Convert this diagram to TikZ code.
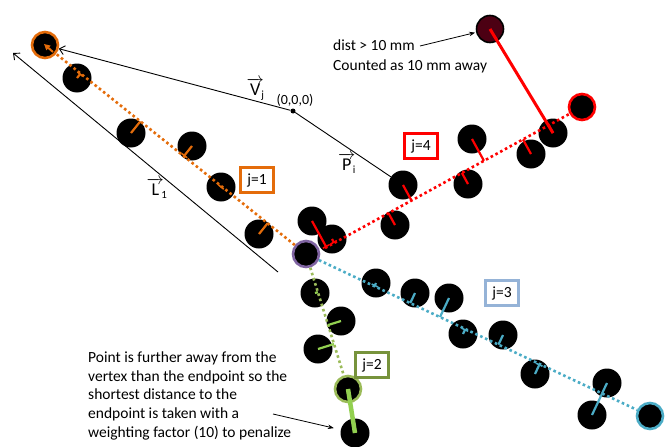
\documentclass[tikz,border=0pt]{standalone}
\usepackage{fontspec}
\setmainfont{Carlito}
\usetikzlibrary{calc,arrows.meta}
\definecolor{orC}{HTML}{E46C0A}
\definecolor{redC}{HTML}{FF0000}
\definecolor{blueC}{HTML}{4BACC6}
\definecolor{purpC}{HTML}{8064A2}
\definecolor{grnD}{HTML}{9BBB59}
\definecolor{grnL}{HTML}{92D050}
\definecolor{grnBox}{HTML}{77933C}
\definecolor{blueBox}{HTML}{95B3D7}
\definecolor{maroon}{HTML}{4C0013}
\newcommand{\veclab}[2]{\(\overrightarrow{\mbox{#1}}\)\kern-2.5pt\raisebox{-3.5pt}{\fontsize{11}{11}\selectfont #2}}
\begin{document}
\begin{tikzpicture}[x=1pt,y=-1pt,
  blk/.style={circle,fill=black,minimum size=29pt,inner sep=0pt},
  endp/.style={circle,fill=black,draw=#1,line width=2.6pt,minimum size=26pt,inner sep=0pt},
  dotl/.style={draw=#1,line width=2.6pt,dash pattern=on 2.6pt off 2.8pt},
  proj/.style={draw=#1,line width=2.2pt},
  projbar/.style={draw=#1,line width=2.2pt,-{Bar[width=7pt,line width=1.6pt]}},
  jbox/.style={draw=#1,line width=2.6pt,fill=white,minimum width=33pt,minimum height=25pt,inner sep=0pt,font=\fontsize{15.5}{18.6}\selectfont},
  lbl/.style={font=\fontsize{15.5}{18.6}\selectfont,inner sep=0pt},
  veclbl/.style={font=\fontsize{18}{20}\selectfont,inner sep=0pt,anchor=base west},
  openarrow/.style={draw=black,line width=0.9pt,-{Straight Barb[length=5pt,width=9pt]}},
  notearrow/.style={draw=black,line width=0.8pt,-{Stealth[length=6pt,width=4.5pt]}}
]
\useasboundingbox (0,0) rectangle (667,447);

% black data points
\node[blk] (o1) at (77,78) {};
\node[blk] (o2) at (131,133) {};
\node[blk] (o3) at (192,146) {};
\node[blk] (o4) at (221,187) {};
\node[blk] (o5) at (259,234) {};
\node[blk] (r1) at (312,221) {};
\node[blk] (r2) at (332,239) {};
\node[blk] (r3) at (403,185) {};
\node[blk] (r4) at (395,225) {};
\node[blk] (r5) at (472,139) {};
\node[blk] (r6) at (468,184) {};
\node[blk] (r7) at (531,154) {};
\node[blk] (r8) at (553,133) {};
\node[blk] (b1) at (376,283) {};
\node[blk] (b2) at (415,293) {};
\node[blk] (b3) at (449,298) {};
\node[blk] (b4) at (463,334) {};
\node[blk] (b5) at (503,335) {};
\node[blk] (b6) at (535,374) {};
\node[blk] (b7) at (607,383) {};
\node[blk] (b8) at (592,415) {};
\node[blk] (g1) at (315,293) {};
\node[blk] (g2) at (341,321) {};
\node[blk] (g3) at (318,349) {};
\node[blk] (gfar) at (355,433) {};
\node[circle,fill=maroon,draw=black,line width=1.6pt,minimum size=27pt,inner sep=0pt] (rfar) at (490,29) {};

% vertex and endpoints
\node[endp=purpC] (vtx) at (306,254) {};
\node[endp=orC] (oend) at (45,45) {};
\node[endp=redC] (rend) at (582,107) {};
\node[endp=blueC] (bend) at (650,416) {};
\node[endp=grnD] (gend) at (348,389) {};
\coordinate (rstart) at (325,248);

% vectors
\node[circle,fill=black,minimum size=5pt,inner sep=0pt] (org) at (293,111) {};
\draw[openarrow] (org) -- (oend);
\draw[black,line width=0.9pt] (org) -- (r3);
\coordinate (ltail) at (278,272);
\coordinate (lhead) at (13,53);
\draw[openarrow] (ltail) -- (lhead);

% dotted fitted lines
\draw[dotl=orC] (vtx) -- (oend);
\draw[dotl=redC] (rstart) -- (rend);
\draw[dotl=blueC] (vtx) -- (bend);
\draw[dotl=grnD] (vtx) -- (gend);

% projections
\foreach \p in {o2,o5} \draw[proj=orC] (\p.center) -- ($(vtx.center)!(\p.center)!(oend.center)$);
\foreach \p in {o1,o3,o4} \draw[projbar=orC] (\p.center) -- ($(vtx.center)!(\p.center)!(oend.center)$);
\foreach \p in {r3,r4,r5,r6,r7,r8} \draw[proj=redC] (\p.center) -- ($(rstart)!(\p.center)!(rend.center)$);
\foreach \p in {r1,r2} \draw[projbar=redC] (\p.center) -- ($(rstart)!(\p.center)!(rend.center)$);
\foreach \p in {b2,b3,b5,b7,b8} \draw[proj=blueC] (\p.center) -- ($(vtx.center)!(\p.center)!(bend.center)$);
\foreach \p in {b1,b4,b6} \draw[projbar=blueC] (\p.center) -- ($(vtx.center)!(\p.center)!(bend.center)$);
\foreach \p in {g1,g2,g3} \draw[proj=grnL] (\p.center) -- ($(vtx.center)!(\p.center)!(gend.center)$);
\draw[orC,line width=2pt,-{Triangle[length=6pt,width=6pt]}] (53,52) -- (44,44);

% out-of-range points
\draw[redC,line width=3pt] (rfar.center) -- (r8.center);
\draw[grnL,line width=4.5pt] (gend.center) -- (gfar.center);

% j boxes
\node[jbox=orC] (j1) at (257,180) {j=1};
\node[jbox=redC] (j4) at (421,146) {j=4};
\node[jbox=blueBox] (j3) at (502,293) {j=3};
\node[jbox=grnBox] (j2) at (372,365) {j=2};

% vector labels
\node[veclbl] (vj) at (246.5,95) {\veclab{V}{j}};
\node[lbl,font=\fontsize{14}{16}\selectfont] (zero) at (295,100) {(0,0,0)};
\node[veclbl] (l1) at (146.5,195) {\veclab{L}{1}};
\node[veclbl] (pi) at (338,170) {\veclab{P}{i}};

% annotations
\node[lbl,anchor=base west] (d1) at (333,50.7) {dist > 10 mm};
\node[lbl,anchor=base west] (d2) at (333,70) {Counted as 10 mm away};
\coordinate (dtail) at (420,46);
\draw[notearrow,shorten >=1pt] (dtail) -- (rfar);

\node[lbl,anchor=base west] (t1) at (88,362.7) {Point is further away from the};
\node[lbl,anchor=base west] (t2) at (88,381.3) {vertex than the endpoint so the};
\node[lbl,anchor=base west] (t3) at (88,399.9) {shortest distance to the};
\node[lbl,anchor=base west] (t4) at (88,418.5) {endpoint is taken with a};
\node[lbl,anchor=base west] (t5) at (88,437.1) {weighting factor (10) to penalize};
\coordinate (ttail) at (273,414);
\draw[notearrow,shorten >=7pt] (ttail) -- (gfar);
\end{tikzpicture}
\end{document}
